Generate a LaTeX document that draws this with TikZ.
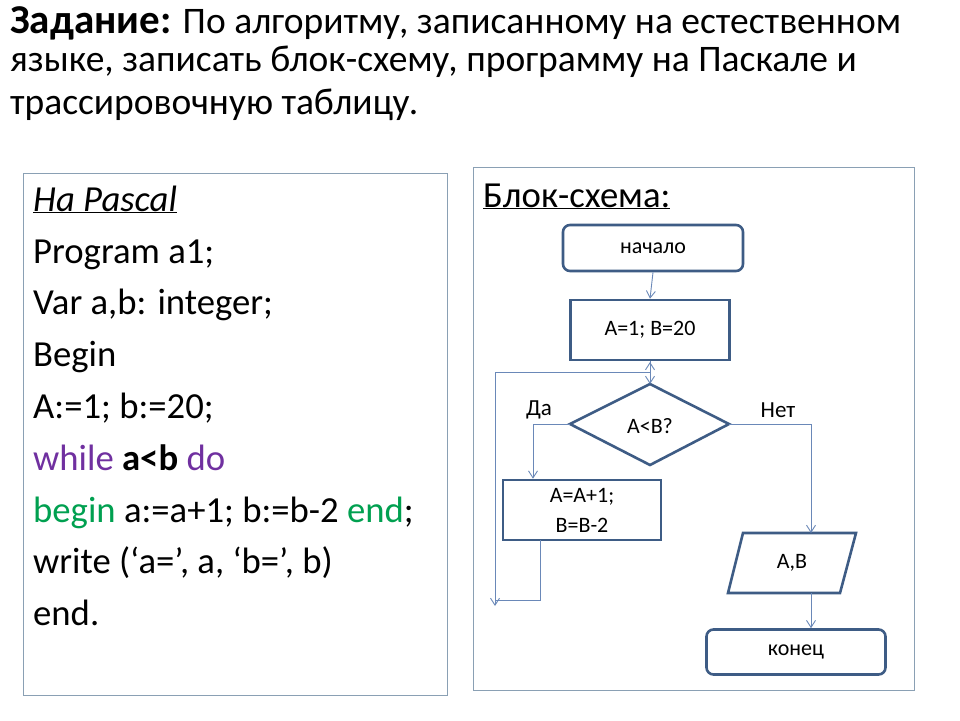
\documentclass[tikz,border=0pt]{standalone}
\usepackage{fontspec}
\setmainfont{Carlito}
\usetikzlibrary{arrows.meta}
\definecolor{boxc}{HTML}{3E5C85}
\definecolor{linec}{HTML}{6A88B8}
\definecolor{framec}{HTML}{8AA0B4}
\definecolor{purp}{HTML}{7030A0}
\definecolor{grn}{HTML}{00A050}
\begin{document}
\begin{tikzpicture}[x=1pt,y=-1pt,
  fbox/.style={draw=boxc,line width=2.6pt,minimum width=#1,inner sep=0pt,font=\fontsize{22}{26}\selectfont,align=center},
  conn/.style={draw=linec,line width=0.9pt,-{Straight Barb[length=7pt,width=9pt]}},
  code/.style={anchor=base west,inner sep=0pt,font=\fontsize{36.7}{44}\selectfont},
  ttl/.style={anchor=base west,inner sep=0pt,font=\fontsize{37.5}{45}\selectfont}]
\useasboundingbox (0,0) rectangle (960,720);
\fill[white] (0,0) rectangle (960,720);
% title
\node[ttl] (t1) at (10,33) {{\fontsize{41}{48}\selectfont\bfseries Задание:} По алгоритму, записанному на естественном};
\node[ttl] (t2) at (10,71) {языке, записать блок-схему, программу на Паскале и};
\node[ttl] (t3) at (10,114) {трассировочную таблицу.};
% frames
\draw[framec,line width=1pt] (23,173) rectangle (447,695);
\draw[framec,line width=1pt] (473,167) rectangle (914,690);
% code
\node[code] (c0) at (33,211) {\underline{\itshape На Pascal}};
\node[code] (c1) at (33,263) {Program a1;};
\node[code] (c2) at (33,314) {Var a,b: integer;};
\node[code] (c3) at (33,366) {Begin};
\node[code] (c4) at (33,418) {A:=1; b:=20;};
\node[code] (c5) at (33,470) {\textcolor{purp}{while} \textbf{a<b} \textcolor{purp}{do}};
\node[code] (c6) at (33,522) {\textcolor{grn}{begin} a:=a+1; b:=b-2 \textcolor{grn}{end};};
\node[code] (c7) at (33,573) {write (‘a=’, a, ‘b=’, b)};
\node[code] (c8) at (33,625) {end.};
% flowchart
\node[code] (bs) at (483,207) {\underline{Блок-схема:}};
\node[fbox=180pt,minimum height=46pt,rounded corners=7pt] (start) at (653,248) {начало};
\node[fbox=159pt,minimum height=60pt] (init) at (650,330) {A=1; B=20};
\draw[boxc,line width=2.6pt] (570,424) coordinate (dw) -- (650,384) coordinate (dn) -- (729,424) coordinate (de) -- (650,465) -- cycle;
\node[inner sep=0pt,font=\fontsize{22}{26}\selectfont] (cond) at (650,426) {A<B?};
\node[fbox=158pt,minimum height=60pt] (body) at (582,510) {A=A+1;\\[4pt]B=B-2};
\draw[boxc,line width=2.6pt] (743,533) -- (856,533) -- (840,593) -- (728,593) -- cycle;
\node[inner sep=0pt,minimum width=100pt,minimum height=60pt,font=\fontsize{22}{26}\selectfont] (out) at (792,563) {A,B};
\node[fbox=179pt,minimum height=45pt,rounded corners=7pt] (stop) at (796,652) {конец};
\node[inner sep=0pt,font=\fontsize{23}{27}\selectfont] (da) at (539,410) {Да};
\node[inner sep=0pt,font=\fontsize{23}{27}\selectfont] (net) at (778,410) {Нет};
\draw[conn] (start.south) -- (init.south |- init.north);
\draw[conn] (init.south) -- (dn);
\draw[conn] (dw) -| (body.north -| 533,0);
\draw[conn] (de) -| (811,533);
\draw[conn] (811,593) -- (stop.north -| 811,0);
\coordinate (lp) at (495,372);
\draw[draw=linec,line width=0.9pt] (540,540) |- (495,600) -- (lp) -- (650,372);
\draw[conn] (495,596) -- (495,606);
\draw[conn] (650,374) -- (650,362);
\end{tikzpicture}
\end{document}
